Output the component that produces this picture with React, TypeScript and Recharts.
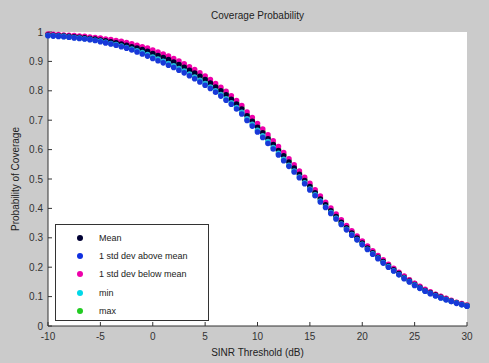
import React from "react";
import { ScatterChart, Scatter, XAxis, YAxis, CartesianGrid } from "recharts";

const snrDb = [-10,-9.5,-9,-8.5,-8,-7.5,-7,-6.5,-6,-5.5,-5,-4.5,-4,-3.5,-3,-2.5,-2,-1.5,-1,-0.5,0,0.5,1,1.5,2,2.5,3,3.5,4,4.5,5,5.5,6,6.5,7,7.5,8,8.5,9,9.5,10,10.5,11,11.5,12,12.5,13,13.5,14,14.5,15,15.5,16,16.5,17,17.5,18,18.5,19,19.5,20,20.5,21,21.5,22,22.5,23,23.5,24,24.5,25,25.5,26,26.5,27,27.5,28,28.5,29,29.5,30];

const meanVals = [.990,.989,.988,.987,.985,.984,.982,.980,.978,.976,.973,.970,.967,.963,.959,.955,.950,.945,.940,.934,.927,.920,.913,.906,.898,.889,.880,.870,.860,.849,.838,.826,.813,.800,.786,.771,.755,.738,.715,.696,.676,.657,.637,.617,.597,.579,.558,.537,.516,.495,.474,.453,.432,.412,.392,.372,.353,.334,.316,.299,.282,.265,.249,.234,.219,.205,.191,.178,.165,.153,.141,.131,.121,.113,.105,.098,.091,.085,.079,.074,.069];

const aboveVals = [.987,.986,.985,.984,.982,.980,.978,.976,.974,.971,.967,.963,.959,.955,.950,.945,.939,.932,.925,.918,.910,.902,.895,.887,.879,.870,.861,.851,.841,.830,.819,.808,.795,.782,.768,.754,.738,.721,.699,.680,.660,.641,.621,.602,.582,.562,.543,.524,.504,.484,.463,.443,.422,.403,.383,.364,.345,.327,.309,.293,.276,.260,.244,.229,.214,.200,.187,.174,.161,.150,.138,.128,.118,.110,.102,.095,.089,.083,.077,.072,.067];

const belowVals = [.993,.992,.991,.990,.989,.988,.986,.985,.983,.981,.979,.976,.974,.971,.968,.964,.960,.955,.950,.945,.939,.932,.925,.918,.910,.901,.892,.882,.872,.861,.850,.838,.825,.812,.798,.783,.767,.750,.728,.709,.689,.670,.650,.630,.610,.590,.569,.548,.527,.506,.485,.463,.442,.421,.401,.381,.361,.342,.324,.306,.289,.272,.256,.240,.225,.210,.196,.183,.170,.157,.145,.135,.125,.116,.108,.101,.094,.087,.081,.076,.071];

const minVals = [.988,.987,.986,.985,.983,.981,.979,.977,.975,.972,.969,.965,.961,.957,.952,.947,.942,.936,.930,.923,.915,.908,.900,.893,.885,.876,.867,.857,.847,.836,.825,.813,.800,.787,.773,.759,.743,.727,.705,.686,.666,.647,.627,.607,.587,.567,.547,.527,.507,.487,.466,.446,.425,.405,.386,.366,.347,.329,.311,.294,.278,.261,.246,.231,.216,.202,.188,.175,.163,.151,.139,.129,.119,.111,.103,.096,.090,.084,.078,.073,.068];

const maxVals = [.991,.990,.989,.988,.986,.985,.983,.981,.979,.977,.975,.972,.969,.966,.962,.958,.953,.949,.944,.938,.931,.924,.917,.910,.902,.893,.884,.874,.864,.853,.842,.830,.817,.804,.790,.775,.759,.742,.719,.700,.680,.661,.641,.621,.601,.583,.562,.541,.520,.499,.478,.457,.436,.416,.396,.376,.357,.338,.320,.303,.286,.269,.253,.237,.222,.208,.194,.181,.168,.156,.144,.133,.123,.115,.107,.100,.093,.086,.080,.075,.070];

const xTicks = [-10, -5, 0, 5, 10, 15, 20, 25, 30];
const yTicks = [0, 0.1, 0.2, 0.3, 0.4, 0.5, 0.6, 0.7, 0.8, 0.9, 1];

const legendItems = [
  { name: "Mean", color: "#000033" },
  { name: "1 std dev above mean", color: "#1030e0" },
  { name: "1 std dev below mean", color: "#ee00aa" },
  { name: "min", color: "#00d8e8" },
  { name: "max", color: "#22cc22" },
];

const mk = (vals: number[]) => snrDb.map((x, i) => ({ x, y: vals[i] }));

const FONT = "'Liberation Sans', Arial, sans-serif";

const dot = (color: string) => (p: any) => (
  <circle cx={p.cx} cy={p.cy} r={2.8} fill={color} />
);

function LegendBox() {
  return (
    <div
      style={{
        position: "absolute",
        left: 55,
        top: 224,
        width: 154,
        height: 97,
        background: "#fff",
        border: "1px solid #333",
        boxSizing: "border-box",
        fontFamily: FONT,
        fontSize: 9,
        color: "#222",
        paddingTop: 4,
      }}
    >
      {legendItems.map((it) => (
        <div key={it.name} style={{ display: "flex", alignItems: "center", height: 18.2 }}>
          <span
            style={{
              display: "inline-block",
              width: 6,
              height: 6,
              borderRadius: 3,
              background: it.color,
              marginLeft: 21,
              marginRight: 16,
            }}
          />
          <span>{it.name}</span>
        </div>
      ))}
    </div>
  );
}

export default function App() {
  return (
    <div
      style={{
        position: "fixed",
        left: 0,
        top: 0,
        width: 489,
        height: 363,
        background: "#cbcbcb",
        fontFamily: FONT,
      }}
    >
      <ScatterChart
        width={489}
        height={363}
        margin={{ top: 32, right: 22, bottom: 0, left: 0 }}
        style={{ position: "absolute", left: 0, top: 0 }}
      >
        <CartesianGrid horizontal={false} vertical={false} fill="#ffffff" />
        <XAxis
          type="number"
          dataKey="x"
          domain={[-10, 30]}
          ticks={xTicks}
          height={37}
          tickSize={-4}
          tickMargin={11}
          stroke="#333"
          tick={{ fill: "#333", fontSize: 10, fontFamily: FONT }}
          axisLine={{ stroke: "#333" }}
        />
        <YAxis
          type="number"
          dataKey="y"
          domain={[0, 1]}
          ticks={yTicks}
          width={48}
          tickSize={-4}
          tickMargin={9}
          stroke="#333"
          tick={{ fill: "#333", fontSize: 10, fontFamily: FONT }}
          axisLine={{ stroke: "#333" }}
        />
        <Scatter name="max" data={mk(maxVals)} fill="#22cc22" shape={dot("#22cc22")} isAnimationActive={false} />
        <Scatter name="1 std dev below mean" data={mk(belowVals)} fill="#ee00aa" shape={dot("#ee00aa")} isAnimationActive={false} />
        <Scatter name="Mean" data={mk(meanVals)} fill="#000033" shape={dot("#000033")} isAnimationActive={false} />
        <Scatter name="min" data={mk(minVals)} fill="#00d8e8" shape={dot("#20b8d8")} isAnimationActive={false} />
        <Scatter name="1 std dev above mean" data={mk(aboveVals)} fill="#1030e0" shape={dot("#1838d8")} isAnimationActive={false} />
      </ScatterChart>
      <div
        style={{
          position: "absolute",
          top: 10,
          left: 48,
          width: 419,
          textAlign: "center",
          fontSize: 10,
          color: "#222",
        }}
      >
        Coverage Probability
      </div>
      <div
        style={{
          position: "absolute",
          top: 347,
          left: 48,
          width: 419,
          textAlign: "center",
          fontSize: 10,
          color: "#222",
        }}
      >
        SINR Threshold (dB)
      </div>
      <div
        style={{
          position: "absolute",
          left: 15,
          top: 179,
          transform: "translate(-50%, -50%) rotate(-90deg)",
          whiteSpace: "nowrap",
          fontSize: 10,
          color: "#222",
        }}
      >
        Probability of Coverage
      </div>
      <LegendBox />
    </div>
  );
}
